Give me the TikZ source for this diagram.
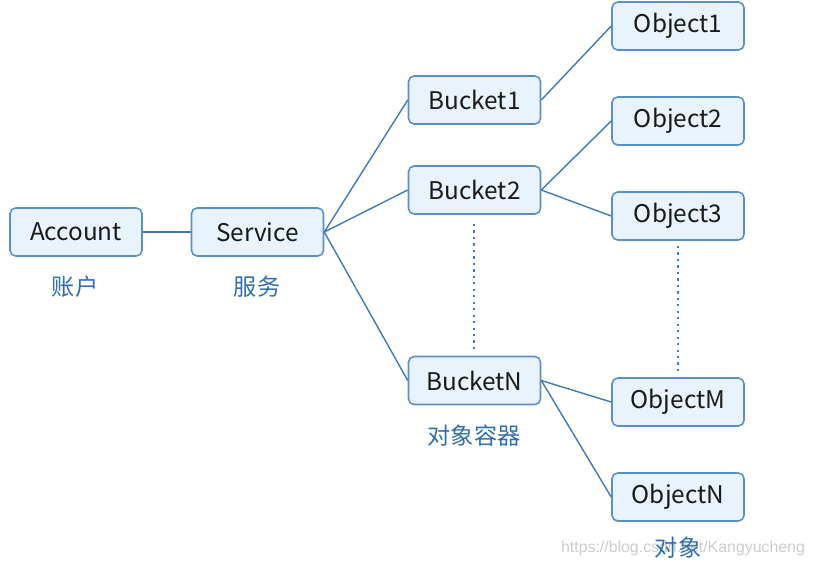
\documentclass[tikz,border=0pt]{standalone}
\usepackage{fontspec}
\setmainfont{Noto Sans CJK SC}
\newfontfamily\wmfont{Liberation Sans}
\definecolor{boxfill}{HTML}{E8F3FD}
\definecolor{boxline}{HTML}{5A8FC4}
\definecolor{linkc}{HTML}{3F7AB5}
\definecolor{labc}{HTML}{2F6DB0}
\tikzset{
  box/.style={draw=boxline, line width=1.1pt, fill=boxfill, rounded corners=4pt,
    minimum width=132*0.025cm, minimum height=48*0.025cm, inner sep=0pt,
    font=\fontsize{17.3}{20}\selectfont, text=black!90},
  link/.style={draw=linkc, line width=1pt},
  dots/.style={draw=linkc, line width=1.6pt, dotted, dash pattern=on 1.6pt off 3pt},
  lab/.style={text=labc, font=\fontsize{16.5}{19}\selectfont, inner sep=0pt},
}
\begin{document}
\begin{tikzpicture}[x=0.025cm, y=-0.025cm]
\useasboundingbox (0,0) rectangle (813,567);
\node[box] (acc) at (76,232) {Account};
\node[box] (srv) at (257.5,232) {Service};
\node[box] (b1) at (474.5,100) {Bucket1};
\node[box] (b2) at (474.5,190) {Bucket2};
\node[box] (bn) at (474.5,380.5) {BucketN};
\node[box] (o1) at (678,26) {Object1};
\node[box] (o2) at (678,121) {Object2};
\node[box] (o3) at (678,216) {Object3};
\node[box] (om) at (678,402) {ObjectM};
\node[box] (on) at (678,497) {ObjectN};
\node[lab] (l1) at (75,287) {账户};
\node[lab] (l2) at (257,287) {服务};
\node[lab] (l3) at (474,436) {对象容器};
\node[text=black!20, font=\wmfont\fontsize{11.3}{13}\selectfont, inner sep=0pt] (wm) at (683,548) {https://blog.csdn.net/Kangyucheng};
\node[lab] (l4) at (678,548) {对象};
\draw[link] (acc.east) -- (srv.west);
\draw[link] (srv.east) -- (b1.west);
\draw[link] (srv.east) -- (b2.west);
\draw[link] (srv.east) -- (bn.west);
\draw[link] (b1.east) -- (o1.west);
\draw[link] (b2.east) -- (o2.west);
\draw[link] (b2.east) -- (o3.west);
\draw[link] (bn.east) -- (om.west);
\draw[link] (bn.east) -- (on.west);
\coordinate (d1a) at (474,224);
\coordinate (d1b) at (474,350);
\coordinate (d2a) at (678,246);
\coordinate (d2b) at (678,372);
\draw[dots] (d1a) -- (d1b);
\draw[dots] (d2a) -- (d2b);
\end{tikzpicture}
\end{document}
